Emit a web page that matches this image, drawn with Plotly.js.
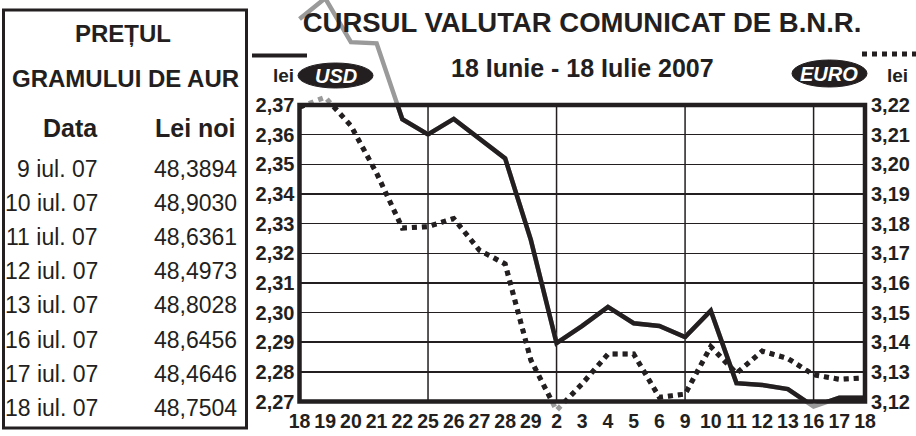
<!DOCTYPE html>
<html><head><meta charset="utf-8">
<script src="https://cdn.plot.ly/plotly-3.0.1.min.js"></script>
<style>html,body{margin:0;padding:0;background:#fff}#chart{width:916px;height:436px}</style>
</head><body><div id="chart"></div>
<script>
// ---- data ----
const dates = ['2007-06-18','2007-06-19','2007-06-20','2007-06-21','2007-06-22',
  '2007-06-25','2007-06-26','2007-06-27','2007-06-28','2007-06-29',
  '2007-07-02','2007-07-03','2007-07-04','2007-07-05','2007-07-06',
  '2007-07-09','2007-07-10','2007-07-11','2007-07-12','2007-07-13',
  '2007-07-16','2007-07-17','2007-07-18'];
const usdValues = [2.3990,2.4060,2.3912,2.3908,2.3652,2.3601,2.3653,2.3586,2.3520,2.3245,
  2.2897,2.2955,2.3019,2.2964,2.2955,2.2917,2.3006,2.2762,2.2756,2.2742,2.2683,2.2713,2.2713];
const eurValues = [3.2193,3.2226,3.2130,3.1970,3.1785,3.1790,3.1817,3.1710,3.1664,3.1340,
  3.1170,3.1260,3.1360,3.1360,3.1214,3.1225,3.1385,3.1295,3.1370,3.1345,3.1290,3.1275,3.1280];
const goldDates = ['9 iul. 07','10 iul. 07','11 iul. 07','12 iul. 07','13 iul. 07','16 iul. 07','17 iul. 07','18 iul. 07'];
const goldPrices = ['48,3894','48,9030','48,6361','48,4973','48,8028','48,6456','48,4646','48,7504'];
const usdRange = [2.27, 2.37];
const eurRange = [3.12, 3.22];

// ---- derived ----
const idx = dates.map((d,i)=>i);
const dayLabels = dates.map(d => String(parseInt(d.slice(8),10)));
const mondays = idx.filter(i => new Date(dates[i]+'T12:00:00Z').getUTCDay() === 1);

// ---- geometry (pixels) ----
const W = 916, H = 436;
const box = {l: 299.5, r: 865, t: 105, b: 401.5};
const dx = [box.l/W, box.r/W];
const dy = [1-box.b/H, 1-box.t/H];
function extend(r, d){ const span=(r[1]-r[0])/(d[1]-d[0]); return [r[0]-d[0]*span, r[1]+(1-d[1])*span]; }
const xr = [0, dates.length-1];
const px = x => x/W, py = y => 1-y/H;

const FR = 'Liberation Sans, Arial, sans-serif';
const INK = '#231f20';

const traces = [
  {x: idx, y: usdValues, xaxis:'x', yaxis:'y', mode:'lines', line:{color:'#9a9a9a', width:4.5}, hoverinfo:'skip', showlegend:false},
  {x: idx, y: eurValues, xaxis:'x', yaxis:'y3', mode:'lines', line:{color:'#9a9a9a', width:5, dash:'dot'}, hoverinfo:'skip', showlegend:false},
  {x: idx, y: usdValues, xaxis:'x2', yaxis:'y2', mode:'lines', name:'USD', line:{color:INK, width:4.5}, showlegend:false},
  {x: idx, y: eurValues, xaxis:'x2', yaxis:'y4', mode:'lines', name:'EURO', line:{color:INK, width:5, dash:'dot'}, showlegend:false}
];

const shapes = [
  {type:'rect', xref:'paper', yref:'paper', x0:px(3.5), x1:px(246.5), y0:py(428), y1:py(10), line:{color:INK, width:3}},
  {type:'rect', xref:'x2 domain', yref:'y2 domain', x0:0, x1:1, y0:0, y1:1, line:{color:INK, width:4.5}, layer:'above'},
  {type:'line', xref:'paper', yref:'paper', x0:px(252), x1:px(307), y0:py(55.5), y1:py(55.5), line:{color:INK, width:4}},
  {type:'line', xref:'paper', yref:'paper', x0:px(862), x1:px(916), y0:py(54), y1:py(54), line:{color:INK, width:5, dash:'dot'}},
  {type:'circle', xref:'paper', yref:'paper', x0:px(298), x1:px(373), y0:py(88), y1:py(63), fillcolor:INK, line:{color:INK, width:1}},
  {type:'circle', xref:'paper', yref:'paper', x0:px(792), x1:px(867), y0:py(87), y1:py(60), fillcolor:INK, line:{color:INK, width:1}}
];
mondays.forEach(i => shapes.push({type:'line', xref:'x2', yref:'y2 domain', x0:i, x1:i, y0:0, y1:1, line:{color:INK, width:1.5}, layer:'below'}));

const ann = [];
function A(text, x, y, opt){ ann.push(Object.assign({text, x:px(x), y:py(y), xref:'paper', yref:'paper', showarrow:false, xanchor:'center', yanchor:'middle'}, opt)); }
A('lei', 283, 75, {font:{family:FR, size:19, weight:'bold', color:INK}});
A('<i>USD</i>', 336, 76, {font:{family:FR, size:20, weight:'bold', color:'#fff'}});
A('<i>EURO</i>', 829, 74, {font:{family:FR, size:20, weight:'bold', color:'#fff'}});
A('lei', 897, 75, {font:{family:FR, size:19, weight:'bold', color:INK}});
A('18 Iunie - 18 Iulie 2007', 582, 68, {font:{family:FR, size:25, weight:'bold', color:INK}});
A('PREȚUL', 123, 33, {font:{family:FR, size:24, weight:'bold', color:INK}});
A('GRAMULUI DE AUR', 126, 78, {font:{family:FR, size:24, weight:'bold', color:INK}});
A('Data', 70, 128, {font:{family:FR, size:25, weight:'bold', color:INK}});
A('Lei noi', 195, 128, {font:{family:FR, size:25, weight:'bold', color:INK}});
goldDates.forEach((d,i) => {
  A(d, 100, 169 + 34.1*i, {xanchor:'right', font:{family:FR, size:23, color:INK}});
  A(goldPrices[i], 239, 169 + 34.1*i, {xanchor:'right', font:{family:FR, size:23, color:INK}});
});

const layout = {
  width: W, height: H,
  margin: {l:0, r:0, t:0, b:0, pad:0},
  paper_bgcolor:'#fff', plot_bgcolor:'rgba(0,0,0,0)',
  separators: ',.',
  showlegend:false,
  title: {text:'CURSUL VALUTAR COMUNICAT DE B.N.R.', x: px(582), xref:'paper', xanchor:'center', y: py(22), yref:'container', yanchor:'middle',
          font:{family:FR, size:27.5, weight:'bold', color:INK}},
  xaxis: {domain:[0,1], range: extend(xr, dx), visible:false, fixedrange:true},
  yaxis: {domain:[0,1], range: extend(usdRange, dy), visible:false, fixedrange:true},
  yaxis3:{domain:[0,1], range: extend(eurRange, dy), overlaying:'y', visible:false, fixedrange:true},
  xaxis2:{domain:dx, anchor:'y2', range: xr, tickmode:'array', tickvals: idx, ticktext: dayLabels, tickangle:0,
          showgrid:false, zeroline:false, showline:false, ticks:'', ticklabelstandoff:6,
          tickfont:{family:FR, size:19.5, weight:'bold', color:INK}},
  yaxis2:{domain:dy, anchor:'x2', range: usdRange, tick0:2.27, dtick:0.01, tickformat:'.2f',
          showgrid:true, gridcolor:INK, gridwidth:1.5, zeroline:false, showline:false, ticks:'', ticklabelstandoff:4,
          tickfont:{family:FR, size:20, weight:'bold', color:INK}},
  yaxis4:{domain:dy, anchor:'x2', overlaying:'y2', side:'right', range: eurRange, tick0:3.12, dtick:0.01, tickformat:'.2f',
          showgrid:false, zeroline:false, showline:false, ticks:'', ticklabelstandoff:5,
          tickfont:{family:FR, size:20, weight:'bold', color:INK}},
  shapes, annotations: ann
};
Plotly.newPlot('chart', traces, layout, {displayModeBar:false, staticPlot:true});
</script></body></html>
